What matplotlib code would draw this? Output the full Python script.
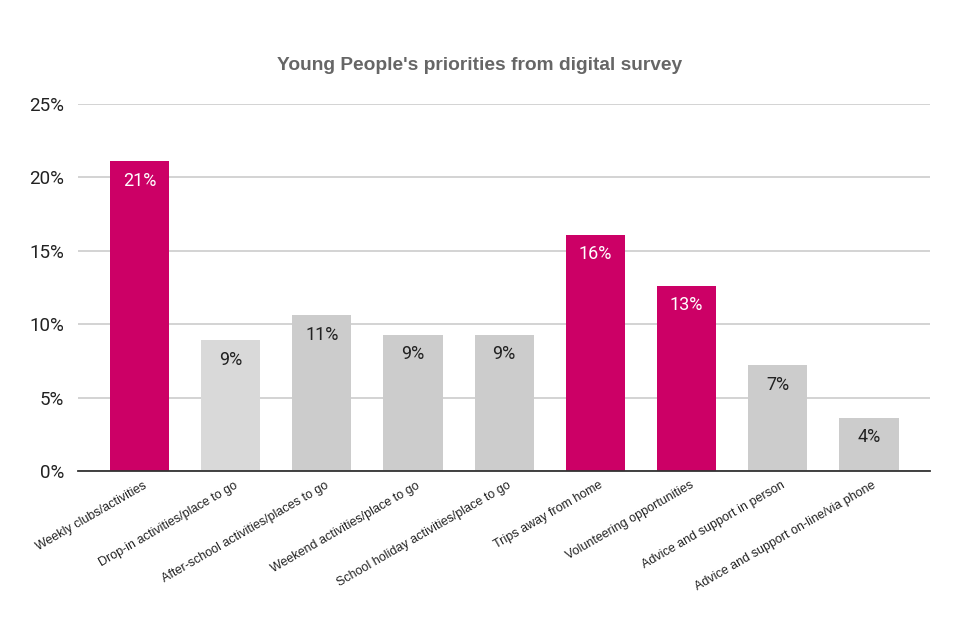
import matplotlib
matplotlib.use("Agg")
import matplotlib.pyplot as plt
import matplotlib.transforms as mtrans
from matplotlib.ticker import FuncFormatter

categories = [
    "Weekly clubs/activities",
    "Drop-in activities/place to go",
    "After-school activities/places to go",
    "Weekend activities/place to go",
    "School holiday activities/place to go",
    "Trips away from home",
    "Volunteering opportunities",
    "Advice and support in person",
    "Advice and support on-line/via phone",
]
values = [21.1, 8.9, 10.6, 9.3, 9.3, 16.1, 12.6, 7.2, 3.6]
labels = ["21%", "9%", "11%", "9%", "9%", "16%", "13%", "7%", "4%"]
colors = ["#CC0066", "#D9D9D9", "#CCCCCC", "#CCCCCC", "#CCCCCC",
          "#CC0066", "#CC0066", "#CCCCCC", "#CCCCCC"]
label_colors = ["white", "#222222", "#222222", "#222222", "#222222",
                "white", "white", "#222222", "#222222"]
yticks = [0, 5, 10, 15, 20, 25]

fig = plt.figure(figsize=(9.6, 6.4), dpi=100)
ax = fig.add_axes([0.08125, 0.264, 0.8875, 0.5735])

x = list(range(len(categories)))
bars = ax.bar(x, values, width=0.65, color=colors, zorder=3)

for b, lab, c in zip(bars, labels, label_colors):
    ax.text(b.get_x() + b.get_width() / 2, b.get_height() - 0.7, lab,
            ha="center", va="top", color=c, fontsize=13, family="Roboto", zorder=4)

ax.set_ylim(0, 25)
ax.set_xlim(-0.674, 8.67)
ax.set_yticks(yticks)
ax.yaxis.set_major_formatter(FuncFormatter(lambda v, p: f"{int(v)}%"))
ax.grid(axis="y", color="#CCCCCC", linewidth=1.2, zorder=0)
for s in ["top", "right", "left"]:
    ax.spines[s].set_visible(False)
ax.spines["bottom"].set_color("#333333")
ax.spines["bottom"].set_linewidth(1.3)
ax.spines["bottom"].set_zorder(5)
ax.tick_params(axis="y", length=0, pad=10, labelsize=13.5, labelcolor="#222222")
ax.tick_params(axis="x", length=0, pad=6)
for lab in ax.get_yticklabels():
    lab.set_family("Roboto")

ax.set_xticks(x)
ax.set_xticklabels(categories, rotation=30, ha="right", rotation_mode="anchor",
                   fontsize=9, family="Liberation Sans", color="#222222")
offset = mtrans.ScaledTranslation(3 / 100, 0, fig.dpi_scale_trans)
for lab in ax.get_xticklabels():
    lab.set_transform(lab.get_transform() + offset)

fig.text(0.5, 0.897, "Young People's priorities from digital survey", ha="center",
         va="center", fontsize=13.8, fontweight="bold", color="#666666",
         family="Liberation Sans")

fig.savefig("out.png", dpi=100, facecolor="white")
